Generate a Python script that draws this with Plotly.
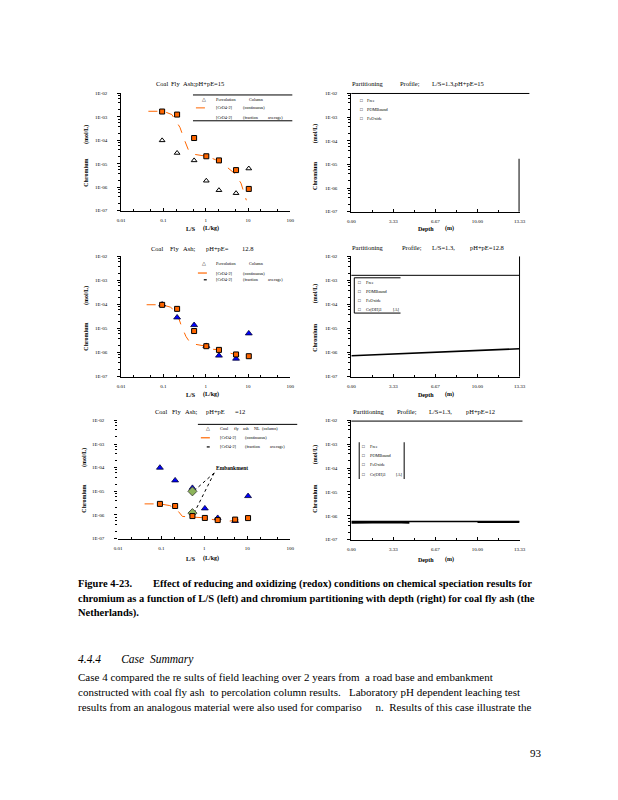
import plotly.graph_objects as go
import numpy as np

PAGE_W, PAGE_H = 618, 800
OFF = 8                      # default body margin of the page
W, H = PAGE_W - OFF, PAGE_H - OFF
SERIF = "Liberation Serif, Times New Roman, serif"
ORANGE = "#FF6600"
BLUE = "#0000FF"
GREEN = "#8DB45A"

# ---------------- data ----------------
ls_pts = [0.093, 0.21, 0.53, 1.03, 2.05, 5.2, 10.4]               # L/S (L/kg)
col_cr = [1.0e-4, 2.9e-5, 1.4e-5, 1.9e-6, 7.5e-7, 5.6e-7, 6.3e-6]  # percolation column Cr (mol/L)

# pH+pE = 15
frac15 = [1.7e-3, 1.26e-3, 1.26e-4, 2.1e-5, 1.4e-5, 5.4e-6, 8.5e-7]
cont15_ls = [0.044, 0.1, 0.158, 0.245, 0.316, 0.398, 0.49, 0.69, 1.05, 1.7, 2.8, 4.8, 6.8, 9.1]
cont15_cr = [1.74e-3, 1.74e-3, 1.26e-3, 3.6e-4, 1.0e-4, 3.5e-5, 2.6e-5, 2.4e-5, 2.1e-5,
             1.5e-5, 8.7e-6, 3.9e-6, 1.5e-6, 2.8e-7]

# pH+pE = 12.8
frac128 = [9.7e-5, 6.6e-5, 7.9e-6, 1.85e-6, 1.3e-6, 8.4e-7, 7.1e-7]
cont128_ls = [0.04, 0.093, 0.145, 0.204, 0.263, 0.34, 0.44, 0.62, 1.0, 1.45, 2.04, 2.9,
              4.1, 5.75, 7.2, 7.6]
cont128_cr = [9.8e-5, 9.8e-5, 7.8e-5, 4.9e-5, 1.35e-5, 4.7e-6, 2.4e-6, 2.2e-6, 1.86e-6,
              1.38e-6, 1.32e-6, 1.07e-6, 9.3e-7, 7.9e-7, 6.5e-7, 1.1e-6]

# pH+pE = 12
frac12 = [2.95e-6, 2.4e-6, 9.0e-7, 7.5e-7, 6.1e-7, 6.4e-7, 7.4e-7]
cont12_ls = [0.041, 0.093, 0.158, 0.224, 0.31, 0.51, 0.72, 1.02, 1.66, 2.5, 3.8, 5.75, 7.4, 8.1]
cont12_cr = [2.95e-6, 2.95e-6, 2.5e-6, 1.8e-6, 8.7e-7, 8.1e-7, 8.1e-7, 7.6e-7, 6.3e-7,
             5.5e-7, 5.5e-7, 6.0e-7, 6.5e-7, 9.5e-7]
emb_ls = [0.53, 0.53]
emb_cr = [1.0e-5, 1.2e-6]
emb_label = (1.7, 6.0e-5)

# partitioning profiles (depth in m)
depth_a = [0.0, 1.67, 3.33, 5.0, 6.67, 8.33, 10.0, 11.67, 13.33]
prof128 = [7.4e-7, 8.0e-7, 8.7e-7, 9.4e-7, 1.02e-6, 1.11e-6, 1.2e-6, 1.32e-6, 1.45e-6]
prof12_a = [5.75e-7, 5.75e-7, 5.75e-7, 5.75e-7, 5.75e-7, 5.75e-7, 5.75e-7, 5.75e-7, 5.75e-7]
depth_b = [0.0, 1.67, 3.33, 4.6]
prof12_b = [5.1e-7, 5.3e-7, 5.3e-7, 5.0e-7]
depth_c = [10.0, 11.67, 13.33]
prof12_c = [5.4e-7, 5.4e-7, 5.5e-7]

y_ticks = [1e-7, 1e-6, 1e-5, 1e-4, 1e-3, 1e-2]
y_ticktext = ["1E-07", "1E-06", "1E-05", "1E-04", "1E-03", "1E-02"]
ls_ticks = [0.01, 0.1, 1, 10, 100]
ls_ticktext = ["0.01", "0.1", "1", "10", "100"]
d_ticks = [0.0, 3.333, 6.667, 10.0, 13.333]
d_ticktext = ["0.00", "3.33", "6.67", "10.00", "13.33"]
d_minor = [1.667, 5.0, 8.333, 11.667]
ls_minor = [m * 10.0 ** e for e in range(-2, 2) for m in (2, 5)]
y_minor = [m * 10.0 ** e for e in range(-7, -2) for m in (2, 4, 6, 8)]

# ---------------- helpers (page pixel -> paper) ----------------
def px_x(p):
    return (p - OFF) / W

def px_y(p):
    return 1 - (p - OFF) / H

def xd(a, b):
    return [px_x(a), px_x(b)]

def yd(top, bot):
    return [px_y(bot), px_y(top)]

fig = go.Figure()
tickfont = dict(family=SERIF, size=5, color="black")

def log_x(dom, anchor):
    return dict(type="log", range=[-2, 2], domain=dom, anchor=anchor,
                tickmode="array", tickvals=ls_ticks, ticktext=ls_ticktext, tickfont=tickfont,
                ticks="inside", ticklen=3, tickcolor="black", ticklabelstandoff=4,
                showline=True, linecolor="black", linewidth=1,
                showgrid=False, zeroline=False,
                minor=dict(tickmode="array", tickvals=ls_minor, ticks="inside", ticklen=2,
                           tickcolor="black", showgrid=False))

def lin_x(dom, anchor):
    return dict(type="linear", range=[0, 13.333], domain=dom, anchor=anchor,
                tickmode="array", tickvals=d_ticks, ticktext=d_ticktext, tickfont=tickfont,
                ticks="inside", ticklen=3, tickcolor="black", ticklabelstandoff=4,
                showline=True, linecolor="black", linewidth=1,
                showgrid=False, zeroline=False,
                minor=dict(tickmode="array", tickvals=d_minor, ticks="inside",
                           ticklen=2, tickcolor="black", showgrid=False))

def log_y(dom, anchor, line=True):
    return dict(type="log", range=[-7, -2], domain=dom, anchor=anchor,
                tickmode="array", tickvals=y_ticks, ticktext=y_ticktext, tickfont=tickfont,
                ticks="outside", ticklen=3, tickcolor="black", ticklabelstandoff=9,
                showline=line, linecolor="black", linewidth=1,
                showgrid=False, zeroline=False,
                minor=dict(tickmode="array", tickvals=y_minor, ticks="outside", ticklen=2,
                           tickcolor="black", showgrid=False))

LX = xd(119, 291)
RX = xd(353, 524)

layout = dict(
    width=W, height=H, margin=dict(l=0, r=0, t=0, b=0),
    paper_bgcolor="white", plot_bgcolor="rgba(0,0,0,0)", showlegend=False,
    xaxis=log_x(LX, "y"), yaxis=log_y(yd(92, 210), "x"),
    xaxis2=lin_x(RX, "y2"), yaxis2=log_y(yd(92, 211), "x2"),
    xaxis3=log_x(LX, "y3"), yaxis3=log_y(yd(256, 377), "x3"),
    xaxis4=lin_x(RX, "y4"), yaxis4=log_y(yd(256, 377), "x4"),
    xaxis5=log_x(xd(116, 291), "y5"), yaxis5=log_y(yd(421, 540), "x5", line=False),
    xaxis6=lin_x(RX, "y6"), yaxis6=log_y(yd(421, 541), "x6"),
)

sq = dict(symbol="square", size=5, color=ORANGE, line=dict(color="black", width=1))
dash_line = dict(color=ORANGE, width=1, dash="dash")

# ---- panel 1: pH+pE = 15
fig.add_trace(go.Scatter(x=cont15_ls, y=cont15_cr, mode="lines", line=dash_line,
                         xaxis="x", yaxis="y", name="[CrO4-2] (continuous)"))
fig.add_trace(go.Scatter(x=ls_pts, y=col_cr, mode="markers", xaxis="x", yaxis="y",
                         marker=dict(symbol="triangle-up", size=5, color="white",
                                     line=dict(color="black", width=1)),
                         name="Percolation Column"))
fig.add_trace(go.Scatter(x=ls_pts, y=frac15, mode="markers", marker=sq,
                         xaxis="x", yaxis="y", name="[CrO4-2] (fraction average)"))

# ---- panel 3: pH+pE = 12.8
fig.add_trace(go.Scatter(x=cont128_ls, y=cont128_cr, mode="lines", line=dash_line,
                         xaxis="x3", yaxis="y3", name="[CrO4-2] (continuous)"))
fig.add_trace(go.Scatter(x=ls_pts, y=col_cr, mode="markers", xaxis="x3", yaxis="y3",
                         marker=dict(symbol="triangle-up", size=6, color=BLUE,
                                     line=dict(color="#000033", width=0.8)),
                         name="Percolation Column"))
fig.add_trace(go.Scatter(x=ls_pts, y=frac128, mode="markers", marker=sq,
                         xaxis="x3", yaxis="y3", name="[CrO4-2] (fraction average)"))

# ---- panel 5: pH+pE = 12
fig.add_trace(go.Scatter(x=cont12_ls, y=cont12_cr, mode="lines", line=dash_line,
                         xaxis="x5", yaxis="y5", name="[CrO4-2] (continuous)"))
fig.add_trace(go.Scatter(x=ls_pts, y=col_cr, mode="markers", xaxis="x5", yaxis="y5",
                         marker=dict(symbol="triangle-up", size=6, color=BLUE,
                                     line=dict(color="#000033", width=0.8)),
                         name="Coal fly ash NL (column)"))
for ex, ey in zip(emb_ls, emb_cr):
    fig.add_trace(go.Scatter(x=[emb_label[0], ex * 1.12], y=[emb_label[1], ey * 1.1],
                             mode="lines", line=dict(color="black", width=1, dash="dot"),
                             xaxis="x5", yaxis="y5", hoverinfo="skip"))
fig.add_trace(go.Scatter(x=emb_ls, y=emb_cr, mode="markers", xaxis="x5", yaxis="y5",
                         marker=dict(symbol="diamond", size=7, color=GREEN,
                                     line=dict(color="#333333", width=0.8)),
                         name="Embankment"))
fig.add_trace(go.Scatter(x=ls_pts, y=frac12, mode="markers", marker=sq,
                         xaxis="x5", yaxis="y5", name="[CrO4-2] (fraction average)"))

# ---- panel 4 & 6: partitioning profiles
fig.add_trace(go.Scatter(x=depth_a, y=prof128, mode="lines", line=dict(color="black", width=1.6),
                         xaxis="x4", yaxis="y4", name="Cr(OH)3"))
fig.add_trace(go.Scatter(x=depth_a, y=prof12_a, mode="lines", line=dict(color="black", width=1.4),
                         xaxis="x6", yaxis="y6", name="Cr(OH)3"))
fig.add_trace(go.Scatter(x=depth_b, y=prof12_b, mode="lines", line=dict(color="black", width=1.8),
                         xaxis="x6", yaxis="y6", name="Free"))
fig.add_trace(go.Scatter(x=depth_c, y=prof12_c, mode="lines", line=dict(color="black", width=1.8),
                         xaxis="x6", yaxis="y6", name="Free"))
# invisible trace to keep panel 2 axes
fig.add_trace(go.Scatter(x=[0], y=[1e-9], mode="markers", xaxis="x2", yaxis="y2",
                         marker=dict(size=1, color="rgba(0,0,0,0)")))

annotations = []
shapes = []

def txt(s, x, y, size=6.5, bold=False, italic=False, anchor="left", angle=0, color="black"):
    if bold:
        s = "<b>" + s + "</b>"
    if italic:
        s = "<i>" + s + "</i>"
    annotations.append(dict(text=s, x=px_x(x), y=px_y(y), xref="paper", yref="paper",
                            xanchor=anchor, yanchor="middle", showarrow=False,
                            textangle=angle,
                            font=dict(family=SERIF, size=size, color=color)))

def hline(x0, x1, y, width=1, color="black", dash=None):
    ln = dict(color=color, width=width)
    if dash:
        ln["dash"] = dash
    shapes.append(dict(type="line", xref="paper", yref="paper",
                       x0=px_x(x0), x1=px_x(x1), y0=px_y(y), y1=px_y(y), line=ln))

def vline(x, y0, y1, width=1, color="black"):
    shapes.append(dict(type="line", xref="paper", yref="paper",
                       x0=px_x(x), x1=px_x(x), y0=px_y(y0), y1=px_y(y1),
                       line=dict(color=color, width=width)))

# ---- titles
for words, y in [([("Coal", 152), ("Fly", 168), ("Ash;pH+pE=15", 180)], 82),
                 ([("Coal", 147), ("Fly", 167), ("Ash;", 180), ("pH+pE=", 203), ("12.8", 240)], 248),
                 ([("Coal", 151), ("Fly", 169), ("Ash;", 182), ("pH+pE", 203), ("=12", 233)], 412),
                 ([("Partitioning", 352), ("Profile;", 400), ("L/S=1.3,pH+pE=15", 433)], 82),
                 ([("Partitioning", 352), ("Profile;", 402), ("L/S=1.3,", 433), ("pH+pE=12.8", 472)], 247),
                 ([("Partitioning", 353), ("Profile;", 397), ("L/S=1.3,", 430), ("pH+pE=12", 468)], 412)]:
    for w, x in words:
        txt(w, x, y, size=6.5)

# ---- axis titles
for xl, (mol_y, chr_y) in [(83, (133, 172)), (83, (295, 337)), (81, (458, 500)),
                           (316, (132, 175)), (316, (293, 338)), (316, (455, 500))]:
    txt("(mol/L)", xl, mol_y, size=6, bold=True, anchor="center", angle=-90)
    txt("Chromium", xl, chr_y, size=6, bold=True, anchor="center", angle=-90)

for y in [228, 395, 560]:
    txt("L/S", 183, y, size=6, bold=True)
    txt("(L/kg)", 200, y, size=6, bold=True)
for y in [228, 395, 561]:
    txt("Depth", 419, y, size=6, bold=True)
    txt("(m)", 446, y, size=6, bold=True)

# ---- left legends
LS = 4.3
# panel 1
hline(192, 293, 93.5)
hline(192, 293, 119.5)
txt("△", 203.5, 97.7, size=4.5, anchor="center")
txt("Percolation", 213, 97.7, size=LS)
txt("Column", 247, 97.7, size=LS)
hline(195, 212, 106.5, color=ORANGE, dash="dash")
txt("[CrO4-2]", 213, 106.5, size=LS)
txt("(continuous)", 241, 106.5, size=LS)
txt("[CrO4-2]", 213, 115.7, size=LS)
txt("(fraction", 241, 115.7, size=LS)
txt("average)", 266, 115.7, size=LS)
# panel 3
txt("△", 203.5, 263.5, size=4.5, anchor="center")
txt("Percolation", 213, 263.5, size=LS)
txt("Column", 247, 263.5, size=LS)
hline(197, 212, 272.7, color=ORANGE, dash="dash", width=1.2)
txt("[CrO4-2]", 213, 272.7, size=LS)
txt("(continuous)", 241, 272.7, size=LS)
hline(203, 206, 279.5, width=1.2)
txt("[CrO4-2]", 213, 279.5, size=LS)
txt("(fraction", 241, 279.5, size=LS)
txt("average)", 266, 279.5, size=LS)
# panel 5
hline(197, 298, 425)
txt("△", 207, 429.5, size=4.5, anchor="center")
txt("Coal", 217, 429.5, size=LS)
txt("fly", 232, 429.5, size=LS)
txt("ash", 241, 429.5, size=LS)
txt("NL", 252, 429.5, size=LS)
txt("(column)", 260, 429.5, size=LS)
hline(200, 212, 438.5, color=ORANGE, dash="dash", width=1.2)
txt("[CrO4-2]", 217, 438.5, size=LS)
txt("(continuous)", 243, 438.5, size=LS)
hline(206, 209, 447.7, width=1.2)
txt("[CrO4-2]", 217, 447.7, size=LS)
txt("(fraction", 243, 447.7, size=LS)
txt("average)", 268, 447.7, size=LS)

annotations.append(dict(text="<b>Embankment</b>", x=float(np.log10(emb_label[0])),
                        y=float(np.log10(emb_label[1])),
                        xref="x5", yref="y5", xanchor="left", yanchor="bottom", showarrow=False,
                        font=dict(family=SERIF, size=5.5, color="black")))

# ---- right panel frames / legends
# panel 2
hline(353, 534, 92)
vline(523.5, 157.7, 211)
for lbl, y in [("Free", 99.3), ("POMBound", 108.3), ("FeOxide", 117.3)]:
    txt("□", 363.5, y, size=4.5, anchor="center")
    txt(lbl, 367, y, size=LS)
# panel 4
hline(353, 524, 275)
vline(524, 256, 377)
hline(356, 403, 277.5)
hline(356, 403, 313)
vline(356, 277.5, 313)
for lbl, y in [("Free", 282.3), ("POMBound", 291.7), ("FeOxide", 300.2), ("Cr(OH)3", 309.3)]:
    txt("□", 361, y, size=4.5, anchor="center")
    txt(lbl, 366, y, size=LS)
txt("[A]", 393, 309.3, size=LS)
# panel 6
hline(353, 527, 421.7)
vline(361, 443, 480)
vline(406.7, 443, 480)
for lbl, y in [("Free", 447.3), ("POMBound", 456.7), ("FeOxide", 465.7), ("Cr(OH)3", 475)]:
    txt("□", 365.5, y, size=4.5, anchor="center")
    txt(lbl, 370, y, size=LS)
txt("[A]", 396, 475, size=LS)

# ---- page text
NB = "\u00a0"
txt("Figure" + NB + "4-23." + NB * 8 + "Effect of reducing and oxidizing (redox) conditions on chemical speciation results for",
    73, 586, size=10.5, bold=True)
txt("chromium as a function of L/S (left) and chromium partitioning with depth (right) for coal fly ash (the",
    73, 601, size=10.5, bold=True)
txt("Netherlands).", 73, 615, size=10.5, bold=True)

txt("4.4.4" + NB * 7 + "Case" + NB * 2 + "Summary", 73, 662, size=11.5, italic=True)
txt("Case 4 compared the re sults of field leaching over 2 years from " + NB + "a road base and embankment",
    73, 679, size=11)
txt("constructed with coal fly ash " + NB + "to percolation column results. " + NB + " Laboratory pH dependent leaching test",
    73, 694, size=11)
txt("results from an analogous material were also used for compariso" + NB * 5 + "n. " + NB + "Results of this case illustrate the",
    73, 709, size=11)
txt("93", 533, 756, size=11)

layout["annotations"] = annotations
layout["shapes"] = shapes
fig.update_layout(**layout)
fig.write_html("out.html")
